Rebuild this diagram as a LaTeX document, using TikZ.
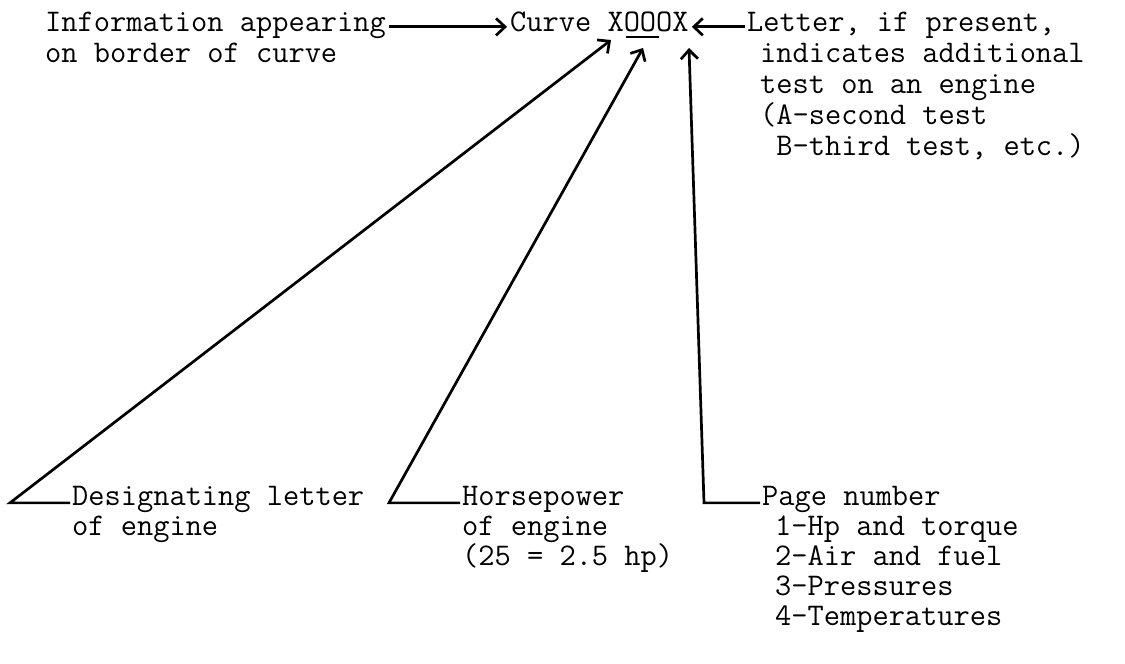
\documentclass[tikz,border=0pt]{standalone}
\usepackage{fontspec}
\usetikzlibrary{arrows.meta}
\begin{document}
\begin{tikzpicture}[x=1pt,y=-1pt,
  txt/.style={font=\fontsize{31.5}{31.5}\selectfont\ttfamily, inner sep=0pt, anchor=base west},
  conn/.style={line width=2.7pt, line join=miter},
  arr/.style={conn, -{Straight Barb[length=9pt,width=17pt]}}]
\useasboundingbox (0,0) rectangle (1125,664);
% top row
\node[txt] (info)    at (45,31)  {Information appearing};
\node[txt] (info2)   at (45,62)  {on border of curve};
\node[txt] (curve)   at (510,31) {Curve XOOOX};
\node[txt] (letter)  at (747,31) {Letter, if present,};
\node[txt] (letter2) at (760,62) {indicates additional};
\node[txt] (letter3) at (760,93) {test on an engine};
\node[txt] (letter4) at (760,124) {(A-second test};
\node[txt] (letter5) at (760,155) {\ B-third test, etc.)};
% bottom row
\node[txt] (desig)  at (72,505)  {Designating letter};
\node[txt] (desig2) at (72,535)  {of engine};
\node[txt] (horse)  at (462,505) {Horsepower};
\node[txt] (horse2) at (462,535) {of engine};
\node[txt] (horse3) at (462,565) {(25 = 2.5 hp)};
\node[txt] (page)   at (762,505) {Page number};
\node[txt] (page1)  at (775,535) {1-Hp and torque};
\node[txt] (page2)  at (775,565) {2-Air and fuel};
\node[txt] (page3)  at (775,595) {3-Pressures};
\node[txt] (page4)  at (775,625) {4-Temperatures};
% arrow targets and corners
\coordinate (tipA) at (611,40);
\coordinate (tipB) at (643,48);
\coordinate (tipC) at (689,48);
\coordinate (cA) at (10,0);
\coordinate (cB) at (389,0);
\coordinate (cC) at (704,0);
% connectors
\draw[arr] ([shift={(3pt,2pt)}]info.mid east) -- ([shift={(-3pt,2pt)}]curve.mid west);
\draw[arr] ([shift={(-2pt,2pt)}]letter.mid west) -- ([shift={(3pt,2pt)}]curve.mid east);
\draw[conn] ([shift={(116pt,-6pt)}]curve.base west) -- ([shift={(149pt,-6pt)}]curve.base west);
\draw[arr] ([xshift=-2pt]desig.mid west) -- (desig.mid west -| cA) -- (tipA);
\draw[arr] ([xshift=-2pt]horse.mid west) -- (horse.mid west -| cB) -- (tipB);
\draw[arr] ([xshift=-2pt]page.mid west) -- (page.mid west -| cC) -- (tipC);
\end{tikzpicture}
\end{document}
